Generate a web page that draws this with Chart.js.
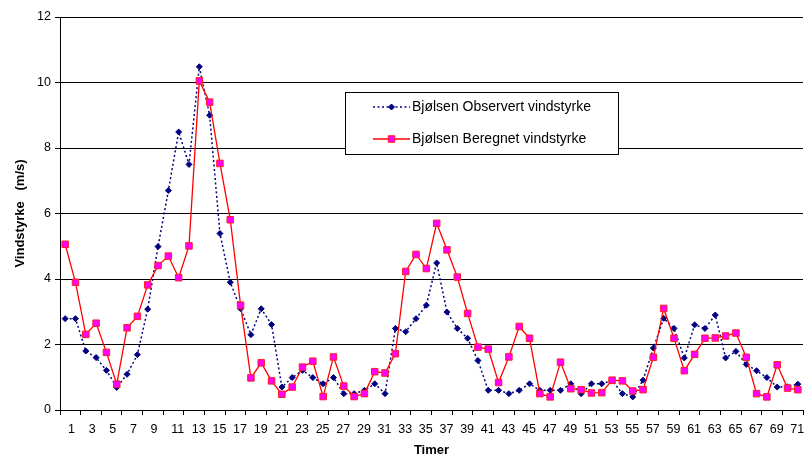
<!DOCTYPE html>
<html>
<head>
<meta charset="utf-8">
<script src="https://cdn.jsdelivr.net/npm/chart.js@4/dist/chart.umd.min.js"></script>
<style>
  html, body { margin: 0; padding: 0; background: #ffffff; }
  #wrap { width: 810px; height: 459px; position: relative; }
</style>
</head>
<body>
<div id="wrap"><canvas id="c" width="810" height="459"></canvas></div>
<script>
// ---- data ----
const hours = [1,2,3,4,5,6,7,8,9,10,11,12,13,14,15,16,17,18,19,20,21,22,23,24,25,26,27,28,29,30,31,32,33,34,35,36,37,38,39,40,41,42,43,44,45,46,47,48,49,50,51,52,53,54,55,56,57,58,59,60,61,62,63,64,65,66,67,68,69,70,71,72];

const observert = [2.79,2.79,1.80,1.60,1.21,0.69,1.09,1.69,3.08,4.99,6.70,8.49,7.50,10.48,9.00,5.39,3.90,3.09,2.30,3.09,
                   2.61,0.70,0.99,1.21,0.99,0.80,0.99,0.50,0.50,0.60,0.80,0.50,2.49,2.39,2.79,3.20,4.49,2.99,2.49,2.19,
                   1.51,0.60,0.60,0.50,0.60,0.80,0.60,0.60,0.60,0.80,0.50,0.80,0.80,0.90,0.50,0.40,0.91,1.89,2.80,2.49,
                   1.59,2.60,2.49,2.90,1.59,1.79,1.39,1.20,0.99,0.70,0.71,0.79];

const beregnet = [5.06,3.90,2.31,2.65,1.76,0.79,2.51,2.86,3.82,4.41,4.70,4.04,5.01,10.05,9.40,7.53,5.81,3.20,0.98,1.44,
                  0.89,0.48,0.70,1.31,1.49,0.41,1.62,0.73,0.41,0.50,1.17,1.13,1.72,4.23,4.75,4.32,5.70,4.89,4.06,2.95,
                  1.92,1.86,0.84,1.62,2.55,2.19,0.50,0.40,1.46,0.65,0.62,0.52,0.53,0.91,0.89,0.58,0.62,1.61,3.10,2.19,
                  1.20,1.70,2.19,2.20,2.26,2.35,1.61,0.50,0.40,1.38,0.67,0.62];

const xTickLabels = ['1','3','5','7','9','11','13','15','17','19','21','23','25','27','29','31','33','35',
                     '37','39','41','43','45','47','49','51','53','55','57','59','61','63','65','67','69','71'];
const yTickValues = [0,2,4,6,8,10,12];

const seriesNames = ['Bjølsen Observert vindstyrke', 'Bjølsen Beregnet vindstyrke'];
const xTitle = 'Timer';
const yTitle = 'Vindstyrke   (m/s)';

// ---- build ----
const FONT = "'Liberation Sans', Arial, sans-serif";
const xBoundaries = xTickLabels.map(l => Number(l) - 0.5).concat([hours[hours.length - 1] + 0.5]);

const legendPlugin = {
  id: 'boxLegend',
  afterDatasetsDraw(chart, args, opts) {
    const ctx = chart.ctx;
    ctx.save();
    ctx.fillStyle = '#ffffff';
    ctx.fillRect(opts.x, opts.y, opts.w, opts.h);
    ctx.strokeStyle = '#000000';
    ctx.lineWidth = 1;
    ctx.strokeRect(opts.x + 0.5, opts.y + 0.5, opts.w, opts.h);
    chart.data.datasets.forEach((ds, i) => {
      const cy = opts.y + opts.rowY[i];
      ctx.save();
      ctx.strokeStyle = ds.borderColor;
      ctx.lineWidth = ds.borderWidth;
      ctx.setLineDash(ds.borderDash || []);
      ctx.beginPath();
      ctx.moveTo(opts.x + opts.lineStart, cy);
      ctx.lineTo(opts.x + opts.lineEnd, cy);
      ctx.stroke();
      ctx.setLineDash([]);
      ctx.fillStyle = ds.pointBackgroundColor;
      ctx.strokeStyle = ds.pointBorderColor;
      ctx.lineWidth = ds.pointBorderWidth;
      Chart.helpers.drawPoint(ctx, {pointStyle: ds.pointStyle, radius: ds.pointRadius, borderWidth: ds.pointBorderWidth, rotation: 0},
        opts.x + (opts.lineStart + opts.lineEnd) / 2, cy);
      ctx.restore();
      ctx.fillStyle = '#000000';
      ctx.font = '14px ' + FONT;
      ctx.textBaseline = 'middle';
      ctx.textAlign = 'left';
      ctx.fillText(ds.label, opts.x + opts.textX, cy + 0.5);
    });
    ctx.restore();
  }
};

new Chart(document.getElementById('c'), {
  type: 'line',
  data: {
    datasets: [
      {
        label: seriesNames[0],
        data: hours.map((h, i) => ({x: h, y: observert[i]})),
        borderColor: '#000080',
        borderWidth: 1.5,
        borderDash: [2, 2.5],
        pointStyle: 'rectRot',
        pointRadius: 3,
        pointBackgroundColor: '#000080',
        pointBorderColor: '#000080',
        pointBorderWidth: 1,
        tension: 0,
        order: 1
      },
      {
        label: seriesNames[1],
        data: hours.map((h, i) => ({x: h, y: beregnet[i]})),
        borderColor: '#FF0000',
        borderWidth: 1.3,
        pointStyle: 'rect',
        pointRadius: 4.6,
        pointBackgroundColor: '#FF00FF',
        pointBorderColor: '#FF2020',
        pointBorderWidth: 1,
        tension: 0,
        order: 0
      }
    ]
  },
  options: {
    responsive: false,
    animation: false,
    clip: false,
    layout: { padding: { top: 17, right: 0, bottom: 0, left: 0 } },
    plugins: {
      legend: { display: false },
      tooltip: { enabled: false },
      boxLegend: { x: 345, y: 92, w: 273, h: 62, rowY: [15, 47], lineStart: 28, lineEnd: 65, textX: 67 }
    },
    scales: {
      x: {
        type: 'linear',
        min: hours[0] - 0.5,
        max: hours[hours.length - 1] + 0.5,
        afterBuildTicks: (axis) => { axis.ticks = xBoundaries.map(v => ({value: v})); },
        afterFit: (axis) => { axis.height = 49; },
        grid: { drawOnChartArea: false, drawTicks: true, tickLength: 5, color: '#000000', tickColor: '#000000' },
        border: { color: '#000000', width: 1 },
        ticks: {
          autoSkip: false, maxRotation: 0, minRotation: 0,
          align: 'start', labelOffset: 8, padding: 7,
          color: '#000000',
          font: { family: FONT, size: 12.5 },
          callback: (value, index) => xTickLabels[index] !== undefined ? xTickLabels[index] : ''
        },
        title: {
          display: true, text: xTitle, color: '#000000',
          font: { family: FONT, size: 13, weight: 'bold' },
          padding: { top: 0, bottom: 1 }
        }
      },
      y: {
        min: 0, max: 12,
        afterBuildTicks: (axis) => { axis.ticks = yTickValues.map(v => ({value: v})); },
        afterFit: (axis) => { axis.width = 60; },
        grid: { color: '#000000', tickColor: '#000000', tickLength: 5, lineWidth: 1 },
        border: { color: '#000000', width: 1 },
        ticks: { color: '#000000', padding: 4, font: { family: FONT, size: 12.5 } },
        title: {
          display: true, text: yTitle, color: '#000000',
          font: { family: FONT, size: 13, weight: 'bold' },
          padding: { top: 13, bottom: 0 }
        }
      }
    }
  },
  plugins: [legendPlugin]
});
</script>
</body>
</html>
